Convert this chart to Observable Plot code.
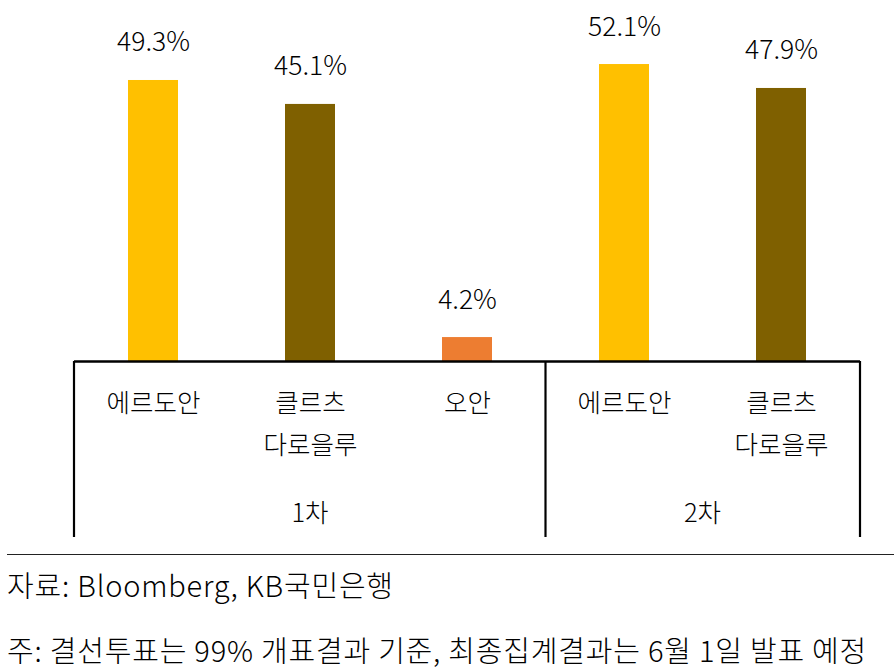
<!DOCTYPE html>
<html>
<head>
<meta charset="utf-8">
<script src="https://cdn.jsdelivr.net/npm/d3@7"></script>
<script src="https://cdn.jsdelivr.net/npm/@observablehq/plot@0.6"></script>
<style>
  html, body { margin: 0; padding: 0; background: #fff; }
  #wrap { position: relative; width: 894px; height: 669px; font-family: "Noto Sans CJK KR", "Noto Sans", sans-serif; font-weight: 300; color: #000; }
  #chart { position: absolute; left: 0; top: 0; }
  #rule { position: absolute; left: 7px; right: 0; top: 554px; border-top: 1.5px solid #222; }
  .note { position: absolute; left: 7px; font-size: 29px; line-height: 1; letter-spacing: 0.8px; white-space: nowrap; }
</style>
</head>
<body>
<div id="wrap">
  <div id="chart"></div>
  <div id="rule"></div>
  <div class="note" id="src" style="top:570px">자료: Bloomberg, KB국민은행</div>
  <div class="note" id="memo" style="top:635px">주: 결선투표는 99% 개표결과 기준, 최종집계결과는 6월 1일 발표 예정</div>
</div>
<script>
const rounds = ["1차", "1차", "1차", "2차", "2차"];
const candidates = ["에르도안", "클르츠\n다로을루", "오안", "에르도안", "클르츠\n다로을루"];
const shares = [49.3, 45.1, 4.2, 52.1, 47.9];
const candidateNames = ["에르도안", "클르츠\n다로을루", "오안"];
const candidateColors = ["#FFC000", "#7F6000", "#ED7D31"];
const roundNames = ["1차", "2차"];

const data = shares.map((v, i) => ({
  id: rounds[i] + "|" + candidates[i],
  round: rounds[i],
  candidate: candidates[i],
  share: v
}));
const ids = data.map(d => d.id);

const FONT = "\"Noto Sans CJK KR\", \"Noto Sans\", sans-serif";

function groupFrame(index, scales, values, dims) {
  const x = scales.x, y = scales.y;
  const bw = x.bandwidth ? x.bandwidth() : 0;
  const center = id => x(id) + bw / 2;
  const y0 = y(0);
  const g = d3.create("svg:g");
  const left = dims.marginLeft, right = dims.width - dims.marginRight;
  const bounds = [left];
  roundNames.forEach((r, k) => {
    const members = data.filter(d => d.round === r);
    const c0 = center(members[0].id), c1 = center(members[members.length - 1].id);
    if (k < roundNames.length - 1) {
      const next = data.find(d => d.round === roundNames[k + 1]);
      bounds.push((c1 + center(next.id)) / 2);
    }
    g.append("text")
      .attr("x", (c0 + c1) / 2)
      .attr("y", y0 + 161)
      .attr("text-anchor", "middle")
      .attr("font-family", FONT)
      .attr("font-weight", 300)
      .attr("font-size", 25.5)
      .attr("fill", "#000")
      .text(r);
  });
  bounds.push(right);
  bounds.forEach(bx => {
    g.append("line")
      .attr("x1", bx).attr("x2", bx)
      .attr("y1", y0).attr("y2", y0 + 176)
      .attr("stroke", "#000")
      .attr("stroke-width", 2.2);
  });
  return g.node();
}

const chart = Plot.plot({
  width: 894,
  height: 545,
  marginLeft: 74,
  marginRight: 34,
  marginTop: 19,
  marginBottom: 184,
  style: { fontFamily: FONT, fontWeight: 300, fontSize: "25px", color: "#000", background: "#fff", overflow: "visible" },
  x: { domain: ids, paddingInner: 0.68, paddingOuter: 0.34, axis: null },
  y: { domain: [0, 60], axis: null },
  color: { domain: candidateNames, range: candidateColors },
  marks: [
    Plot.barY(data, { x: "id", y: "share", fill: "candidate" }),
    Plot.ruleY([0], { stroke: "#000", strokeWidth: 2.6 }),
    Plot.text(data, { x: "id", y: "share", text: d => d.share.toFixed(1) + "%", lineAnchor: "bottom", dy: -29, fontSize: 26.5, fill: "#000" }),
    Plot.text(data, { x: "id", y: () => 0, text: "candidate", lineAnchor: "top", dy: 21, lineHeight: 1.65, fontSize: 25.5, fill: "#000" }),
    groupFrame
  ]
});
document.getElementById("chart").appendChild(chart);
</script>
</body>
</html>
